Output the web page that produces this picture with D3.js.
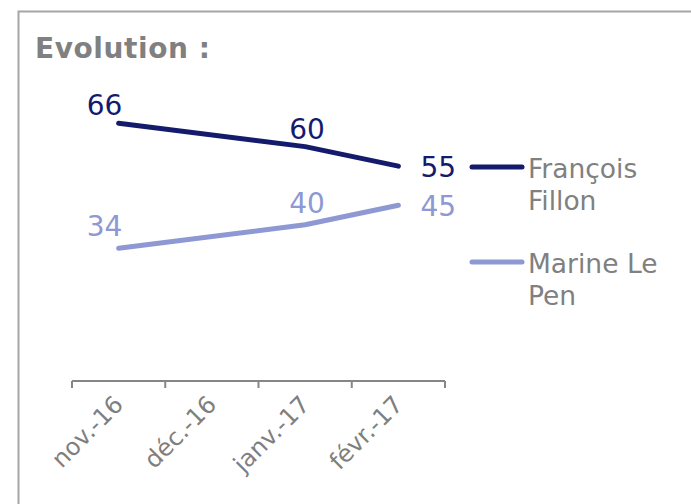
<!DOCTYPE html>
<html><head><meta charset="utf-8">
<script src="https://cdn.jsdelivr.net/npm/d3@7"></script>
<style>body{margin:0;background:#fff;}svg{display:block;}</style>
</head><body>
<script>
const categories = ["nov.-16", "déc.-16", "janv.-17", "févr.-17"];
const fillon = [66, null, 60, 55];
const lepen = [34, null, 40, 45];
const seriesNames = ["François Fillon", "Marine Le Pen"];
const seriesColors = ["#151b6c", "#8e98d2"];

const W = 691, H = 504;
const svg = d3.select("body").append("svg").attr("width", W).attr("height", H);

// frame
svg.append("path").attr("d", `M18.5,${H} V11.5 H${W}`).attr("fill", "none")
  .attr("stroke", "#a6a6a6").attr("stroke-width", 2);

svg.append("text").attr("x", 35).attr("y", 58).text("Evolution :")
  .attr("font-family", "DejaVu Sans").attr("font-weight", "bold")
  .attr("font-size", 28).attr("fill", "#808080").attr("textLength", 175);

const x = d3.scaleBand().domain(categories).range([72, 445]);
const y = d3.scaleLinear().domain([0, 80]).range([381, 68.5]);
const font = "DejaVu Sans";

// axis
svg.append("line").attr("x1", 72).attr("x2", 445).attr("y1", 381).attr("y2", 381)
  .attr("stroke", "#868686").attr("stroke-width", 2);
const tickXs = categories.map(c => x(c)).concat([x.range()[1]]);
svg.selectAll("line.tk").data(tickXs).enter().append("line").attr("class", "tk")
  .attr("x1", d => d).attr("x2", d => d).attr("y1", 381).attr("y2", 388)
  .attr("stroke", "#868686").attr("stroke-width", 2);
svg.selectAll("text.cat").data(categories).enter().append("text").attr("class", "cat")
  .attr("transform", d => `translate(${x(d) + x.bandwidth() / 2 + 6},${406}) rotate(-45)`)
  .attr("text-anchor", "end").attr("font-family", font).attr("font-size", 24)
  .attr("fill", "#7f7f7f").text(d => d);

const cx = c => x(c) + x.bandwidth() / 2;
const seriesData = [fillon, lepen];
seriesData.forEach((vals, si) => {
  const pts = categories.map((c, i) => ({ c, v: vals[i] })).filter(d => d.v != null);
  svg.append("path").datum(pts)
    .attr("d", d3.line().x(d => cx(d.c)).y(d => y(d.v)))
    .attr("fill", "none").attr("stroke", seriesColors[si]).attr("stroke-width", 5)
    .attr("stroke-linecap", "round").attr("stroke-linejoin", "round");
  svg.selectAll(null).data(pts).enter().append("text")
    .attr("x", (d, i) => i === pts.length - 1 ? cx(d.c) + 22 : cx(d.c) + (i === 0 ? -14 : 2))
    .attr("y", (d, i) => i === pts.length - 1 ? y(d.v) + 11 : y(d.v) - (si === 0 ? 8 : 12))
    .attr("text-anchor", (d, i) => i === pts.length - 1 ? "start" : "middle")
    .attr("font-family", font).attr("font-size", 28).attr("fill", seriesColors[si])
    .text(d => d.v);
});

// legend
const legendY = [167, 262];
const legendLines = [["François", "Fillon"], ["Marine Le", "Pen"]];
seriesNames.forEach((n, i) => {
  svg.append("line").attr("x1", 472).attr("x2", 522).attr("y1", legendY[i]).attr("y2", legendY[i])
    .attr("stroke", seriesColors[i]).attr("stroke-width", 5).attr("stroke-linecap", "round");
  const t = svg.append("text").attr("x", 528).attr("y", legendY[i] + 11)
    .attr("font-family", font).attr("font-size", 26.5).attr("fill", "#808080");
  legendLines[i].forEach((l, j) => t.append("tspan").attr("x", 528).attr("dy", j ? 32 : 0).text(l));
});
</script>
</body></html>
